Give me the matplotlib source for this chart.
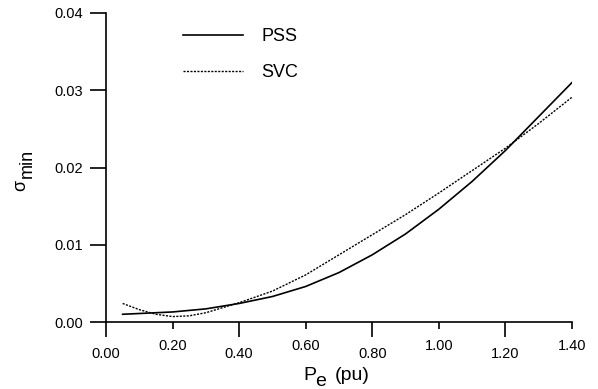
import matplotlib
matplotlib.use("Agg")
import matplotlib.pyplot as plt

plt.rcParams['font.family'] = ['Liberation Sans', 'DejaVu Sans']

# data
pe = [0.05, 0.10, 0.15, 0.20, 0.25, 0.30, 0.40, 0.50, 0.60, 0.70,
      0.80, 0.90, 1.00, 1.10, 1.20, 1.30, 1.40]
pss = [0.0010, 0.0011, 0.0012, 0.0013, 0.0015, 0.0017, 0.0024, 0.0033, 0.0046, 0.0064,
       0.0087, 0.0114, 0.0146, 0.0182, 0.0222, 0.0266, 0.0310]
svc = [0.0024, 0.0016, 0.0010, 0.0007, 0.0008, 0.0012, 0.0025, 0.0040, 0.0061, 0.0087,
       0.0113, 0.0139, 0.0167, 0.0196, 0.0225, 0.0257, 0.0291]

# long ticks with low labels, short ticks with high labels
x_long = [0.0, 0.4, 0.8, 1.2]
x_short = [0.2, 0.6, 1.0, 1.4]
y_ticks = [0.00, 0.01, 0.02, 0.03, 0.04]

W, H = 598, 389
fig = plt.figure(figsize=(W / 100, H / 100), dpi=100)
ax = fig.add_axes([106 / W, (H - 322) / H, (572 - 106) / W, (322 - 13) / H])

ax.plot(pe, pss, color='black', lw=1.2, label='PSS')
ax.plot(pe, svc, color='black', lw=1.0, linestyle=(0, (1.5, 1.0)), label='SVC')

ax.set_xlim(0, 1.4)
ax.set_ylim(0, 0.04)
for s in ['top', 'right']:
    ax.spines[s].set_visible(False)
for s in ['left', 'bottom']:
    ax.spines[s].set_linewidth(1.2)

ax.set_yticks(y_ticks)
ax.set_yticklabels([f"{v:.2f}" for v in y_ticks], fontsize=10.5)
ax.tick_params(axis='y', direction='out', length=11.5, width=1.2, pad=5)

ax.set_xticks(x_long)
ax.set_xticklabels([f"{v:.2f}" for v in x_long], fontsize=10.5)
ax.set_xticks(x_short, minor=True)
ax.set_xticklabels([f"{v:.2f}" for v in x_short], minor=True, fontsize=10.5)
ax.tick_params(axis='x', which='major', direction='out', length=11, width=1.2, pad=7)
ax.tick_params(axis='x', which='minor', direction='out', length=5, width=1.2, pad=7.5)

# axis labels
fig.text(303 / W, 1 - 380 / H, 'P', fontsize=14, ha='left', va='baseline')
fig.text(315 / W, 1 - 386.5 / H, 'e', fontsize=14, ha='left', va='baseline')
fig.text(335 / W, 1 - 380 / H, '(pu)', fontsize=14, ha='left', va='baseline')

fig.text(25 / W, 1 - 191 / H, '\u03c3', fontsize=13, rotation=90,
         rotation_mode='anchor', ha='left', va='baseline')
fig.text(32 / W, 1 - 178 / H, 'min', fontsize=13, rotation=90,
         rotation_mode='anchor', ha='left', va='baseline')

leg = ax.legend(loc='upper left', bbox_to_anchor=(183 / W, 1 - 28 / H),
                bbox_transform=fig.transFigure, frameon=False, borderpad=0,
                borderaxespad=0, fontsize=13, handlelength=3.3,
                handletextpad=1.05, labelspacing=1.05)

fig.savefig('out.png', dpi=100)
